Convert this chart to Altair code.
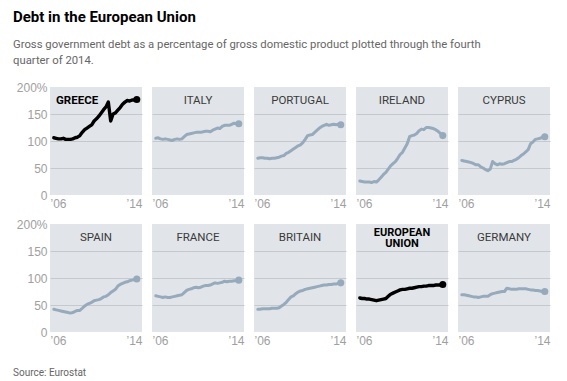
import altair as alt
import pandas as pd

# ---- data (quarterly, 2006 Q1 .. 2014 Q4), % of GDP ----
YEARS = list(range(2006, 2015))
QUARTERS = [1, 2, 3, 4]

GREECE = [106, 105, 104, 104, 105, 103, 103, 103, 104, 106, 107, 110,
          116, 121, 124, 127, 130, 137, 141, 146, 152, 158, 163, 172,
          137, 150, 152, 157, 162, 168, 172, 175, 174, 176, 176, 177]
ITALY = [105, 106, 104, 103, 104, 103, 102, 101, 103, 104, 103, 104,
         108, 112, 113, 114, 115, 116, 116, 116, 117, 118, 118, 117,
         120, 122, 124, 123, 127, 129, 129, 129, 131, 133, 132, 132]
PORTUGAL = [68, 69, 69, 68, 68, 67, 68, 68, 69, 70, 72, 73,
            77, 79, 82, 85, 88, 91, 93, 97, 103, 110, 111, 112,
            116, 120, 124, 127, 129, 131, 129, 130, 131, 130, 131, 130]
IRELAND = [26, 25, 24, 24, 24, 23, 25, 24, 28, 33, 38, 42,
           48, 54, 58, 62, 68, 75, 79, 87, 95, 108, 110, 111,
           114, 119, 122, 121, 125, 125, 124, 123, 121, 118, 114, 110]
CYPRUS = [64, 63, 62, 61, 60, 58, 56, 56, 52, 50, 47, 45,
          48, 62, 58, 56, 58, 57, 58, 60, 62, 62, 64, 66,
          69, 73, 76, 80, 84, 95, 98, 103, 104, 105, 107, 108]
SPAIN = [42, 41, 40, 39, 38, 37, 36, 35, 36, 38, 40, 40,
         44, 48, 51, 53, 55, 58, 59, 60, 62, 65, 66, 69,
         73, 76, 79, 85, 88, 90, 92, 93, 95, 96, 97, 98]
FRANCE = [67, 66, 65, 64, 65, 64, 64, 65, 66, 67, 68, 69,
          73, 77, 79, 80, 82, 83, 82, 83, 85, 86, 86, 87,
          89, 91, 90, 91, 92, 94, 93, 94, 94, 95, 95, 96]
BRITAIN = [42, 42, 43, 43, 43, 43, 44, 44, 44, 45, 48, 51,
           55, 60, 65, 67, 71, 74, 76, 77, 79, 80, 81, 82,
           83, 84, 85, 86, 87, 87, 88, 88, 89, 89, 90, 91]
EU = [63, 62, 62, 61, 61, 60, 59, 58, 59, 60, 61, 62,
      66, 70, 72, 74, 76, 78, 79, 79, 80, 81, 81, 82,
      83, 84, 84, 85, 85, 86, 86, 86, 87, 87, 87, 88]
GERMANY = [69, 69, 68, 67, 66, 65, 65, 64, 65, 66, 66, 66,
           69, 71, 72, 73, 74, 75, 75, 81, 80, 79, 79, 79,
           80, 80, 80, 80, 79, 78, 78, 77, 77, 76, 75, 75]

ROW1 = [("GREECE", GREECE, True), ("ITALY", ITALY, False), ("PORTUGAL", PORTUGAL, False),
        ("IRELAND", IRELAND, False), ("CYPRUS", CYPRUS, False)]
ROW2 = [("SPAIN", SPAIN, False), ("FRANCE", FRANCE, False), ("BRITAIN", BRITAIN, False),
        ("EUROPEAN\nUNION", EU, True), ("GERMANY", GERMANY, False)]

Y_TICKS = [0, 50, 100, 150, 200]
X_DOMAIN = [2005.6, 2015.3]

TITLE = "Debt in the European Union"
SUBTITLE = ["Gross government debt as a percentage of gross domestic product plotted through the fourth",
            "quarter of 2014."]
SOURCE = "Source: Eurostat"

# ---- style ----
W, H = 92, 108
BG = "#e1e5e9"
GRID = "#c4c9ce"
GRAYLINE = "#96aabc"
FONT = "Roboto"
SANS = "Liberation Sans"

T = [y + (q - 1) / 4 for y in YEARS for q in QUARTERS]


def panel(label, values, highlight, first_col, with_source=False, label_left=False):
    df = pd.DataFrame({"t": T, "v": values})
    color = "#000000" if highlight else GRAYLINE
    x = alt.X("t:Q", scale=alt.Scale(domain=X_DOMAIN, nice=False, zero=False),
              axis=alt.Axis(values=X_DOMAIN, labelExpr="datum.value < 2010 ? '\u201906' : '\u201914'",
                            ticks=False, domain=False, grid=False, title=None, labelFlush=True,
                            labelPadding=3, labelColor="#a0a0a0", labelFont=SANS, labelFontSize=12))
    y = alt.Y("v:Q", scale=alt.Scale(domain=[0, 200], nice=False, zero=True),
              axis=alt.Axis(values=Y_TICKS, labels=first_col, labelOverlap=False,
                            labelExpr="datum.value == 200 ? '200%' : datum.label",
                            ticks=False, domain=False, grid=True, title=None,
                            gridColor=alt.condition("datum.value == 0 || datum.value == 200",
                                                    alt.value("transparent"), alt.value(GRID)),
                            labelPadding=3, labelColor="#a0a0a0", labelFont=SANS, labelFontSize=12))
    line = alt.Chart(df).mark_line(color=color, strokeWidth=3.4 if highlight else 3, strokeCap="round",
                                   strokeJoin="round").encode(x=x, y=y)
    dot = alt.Chart(df.tail(1)).mark_point(filled=True, color=color, size=50, opacity=1).encode(x=x, y=y)
    two = "\n" in label
    lab = alt.Chart(pd.DataFrame({"label": [label]})).mark_text(
        font=FONT, fontSize=11 if two else 11.5, fontWeight="bold" if highlight else "normal",
        color="#000000" if highlight else "#3a3a3a", lineBreak="\n", lineHeight=11.5,
        align="left" if label_left else "center", baseline="middle").encode(
        x=alt.value(6 if label_left else W / 2), y=alt.value(8.5 if two else 14), text="label:N")
    layers = [line, dot, lab]
    if with_source:
        src = alt.Chart(pd.DataFrame({"s": [SOURCE]})).mark_text(
            font=FONT, fontSize=10, color="#666666", align="left", baseline="middle").encode(
            x=alt.value(-37), y=alt.value(149), text="s:N")
        layers.append(src)
    return alt.layer(*layers).properties(width=W, height=H)


row1 = alt.hconcat(*[panel(l, v, h, i == 0, label_left=(l == "GREECE")) for i, (l, v, h) in enumerate(ROW1)],
                   spacing=10)
row2 = alt.hconcat(*[panel(l, v, h, i == 0, with_source=(i == 0)) for i, (l, v, h) in enumerate(ROW2)],
                   spacing=10)

chart = alt.vconcat(row1, row2, spacing=9).properties(
    title=alt.TitleParams(text=TITLE, subtitle=SUBTITLE, anchor="start", font=FONT, fontSize=15,
                          fontWeight="bold", color="#000000", subtitleFont=FONT, subtitleFontSize=11.3,
                          subtitleColor="#666666", subtitlePadding=14, subtitleLineHeight=16, offset=15),
    padding={"left": 5, "top": 1, "right": 5, "bottom": 0},
).configure_view(fill=BG, stroke=None).configure_concat(spacing=10)

chart.save("out.html", embed_options={"renderer": "svg", "actions": False})
